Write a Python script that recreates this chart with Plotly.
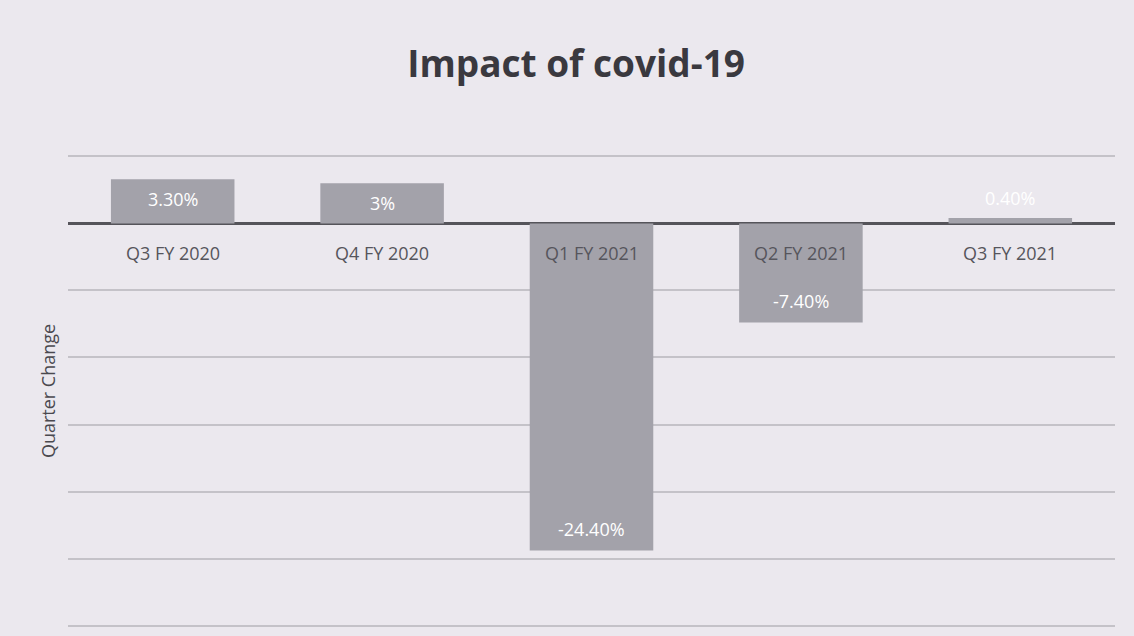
import plotly.graph_objects as go

categories = ["Q3 FY 2020", "Q4 FY 2020", "Q1 FY 2021", "Q2 FY 2021", "Q3 FY 2021"]
values = [3.3, 3.0, -24.4, -7.4, 0.4]
value_labels = ["3.30%", "3%", "-24.40%", "-7.40%", "0.40%"]
y_ticks = [5, 0, -5, -10, -15, -20, -25, -30]

FONT = "Open Sans"

fig = go.Figure()
fig.add_trace(go.Bar(
    x=categories, y=values,
    textposition="none",
    marker=dict(color="#a3a2aa", line=dict(width=0)),
    cliponaxis=False,
))

# category labels just below the zero line
for c in categories:
    fig.add_annotation(x=c, y=0, xref="x", yref="y", text=c, showarrow=False,
                       yanchor="middle", yshift=-30,
                       font=dict(size=18, color="#56555c", family=FONT))

# data labels
for c, v, lab in zip(categories, values, value_labels):
    if v < 0:
        shift = 22
    elif v < 1:
        shift = 20
    else:
        shift = -20
    fig.add_annotation(x=c, y=v, xref="x", yref="y", text=lab, showarrow=False,
                       yanchor="middle", yshift=shift,
                       font=dict(size=18, color="white", family=FONT))

fig.update_layout(
    width=1134, height=636,
    margin=dict(l=68, r=19, t=155, b=9),
    paper_bgcolor="#ebe8ee",
    plot_bgcolor="#ebe8ee",
    bargap=0.41,
    showlegend=False,
    title=dict(text="<b>Impact of covid-19</b>", x=0.508, xanchor="center", y=0.9, yanchor="middle",
               font=dict(size=37, color="#3a393f", family=FONT)),
    xaxis=dict(showticklabels=False, showgrid=False, zeroline=False, showline=False, ticks=""),
    yaxis=dict(range=[-30.1, 5.1], tickvals=y_ticks, showticklabels=False, showgrid=True,
               gridcolor="#c4c2c8", gridwidth=1.5, zeroline=True, zerolinecolor="#55545a",
               zerolinewidth=3, automargin=False,
               title=dict(text="Quarter Change", standoff=6,
                          font=dict(size=18, color="#4a494f", family=FONT))),
)

fig.write_html("out.html", config={"displayModeBar": False},
               post_script="document.body.style.margin='0';document.body.style.background='#ebe8ee';")
